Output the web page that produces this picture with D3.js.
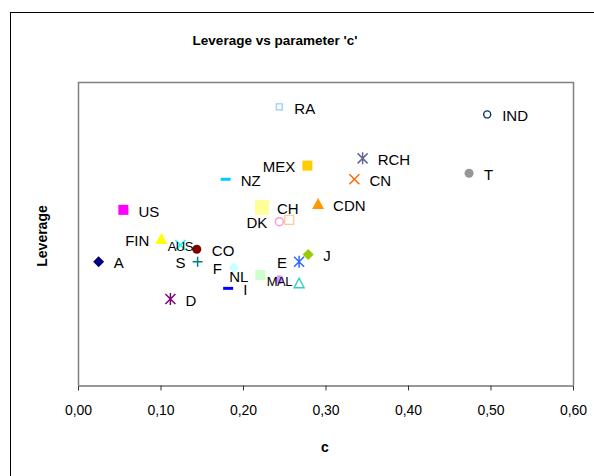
<!DOCTYPE html>
<html><head><meta charset="utf-8">
<script src="https://cdn.jsdelivr.net/npm/d3@7"></script>
<style>body{margin:0;background:#fff;} text{font-family:"Liberation Sans",Arial,sans-serif;}</style>
</head><body>
<svg id="c" width="594" height="476"></svg>
<script>
// ---- data ----
const labels   = ["RA","IND","RCH","MEX","T","CN","NZ","CDN","CH","US","DK","","FIN","AUS","CO","A","S","J","E","F","NL","I","MAL","","D"];
const cValues  = [0.244,0.496,0.345,0.278,0.474,0.335,0.179,0.291,0.223,0.055,0.244,0.256,0.101,0.124,0.144,0.025,0.145,0.279,0.268,0.189,0.221,0.182,0.244,0.268,0.112];
const leverage = [0.918,0.893,0.748,0.724,0.699,0.679,0.679,0.597,0.586,0.578,0.539,0.545,0.482,0.462,0.448,0.407,0.407,0.431,0.407,0.387,0.363,0.319,0.347,0.336,0.284];
const shapes   = ["osquare","ocircle","asterisk","square","circle","x","dash","triangle","bigsquare","square","ocircle","osquare","triangle","x","circle","diamond","plus","diamond","asterisk","diamond","square","dash","circle","otriangle","asterisk"];
const colors   = ["#99ccff","#003366","#666699","#ffcc00","#969696","#ff6600","#00ccff","#ff9900","#ffff99","#ff00ff","#ff99cc","#ffcc99","#ffff00","#00ffff","#800000","#000080","#008080","#99cc00","#3366ff","#ccffff","#ccffcc","#0000ff","#cc99ff","#33cccc","#800080"];
const labelSide= ["r","r","r","l","r","r","r","r","r","r","l","r","l","c","r","r","l","r","l","l","l","r","c","r","r"];
const xTicks   = [0,0.1,0.2,0.3,0.4,0.5,0.6];
const title = "Leverage vs parameter 'c'";
const xTitle = "c", yTitle = "Leverage";

// ---- layout ----
const svg = d3.select("#c");
const L = 78, R = 573, T = 82, B = 385;
const x = d3.scaleLinear().domain([0,0.6]).range([L,R]);
const y = d3.scaleLinear().domain([0,1]).range([B,T]);

// outer chart border
svg.append("rect").attr("x",10.5).attr("y",12.5).attr("width",700).attr("height",600)
  .attr("fill","none").attr("stroke","#000").attr("stroke-width",1);

// plot area border (top/right/left gray)
svg.append("path").attr("d",`M${L+0.5},${B}V${T+0.5}H${R+0.5}V${B}`)
  .attr("fill","none").attr("stroke","#808080").attr("stroke-width",1.5);

// x axis
const xAxis = d3.axisBottom(x).tickValues(xTicks).tickSize(5).tickSizeOuter(0)
  .tickFormat(d => d3.format(".2f")(d).replace(".",","));
const gx = svg.append("g").attr("transform",`translate(0,${B+0.5})`).call(xAxis);
gx.select(".domain").attr("stroke","#333").attr("stroke-width",1.2);
gx.selectAll(".tick line").attr("stroke","#333");
gx.selectAll(".tick text").attr("font-size",14).attr("fill","#000").attr("dy","1.5em")
  .style("font-family","'Liberation Sans',Arial,sans-serif");

// titles
svg.append("text").attr("x",275).attr("y",45).attr("text-anchor","middle")
  .attr("font-size",13.5).attr("font-weight","bold").text(title);
svg.append("text").attr("x",325).attr("y",452).attr("text-anchor","middle")
  .attr("font-size",14).attr("font-weight","bold").text(xTitle);
svg.append("text").attr("transform","translate(47,236) rotate(-90)").attr("text-anchor","middle")
  .attr("font-size",14).attr("font-weight","bold").text(yTitle);

// markers
const pts = labels.map((l,i)=>({l, c:cValues[i], v:leverage[i], s:shapes[i], col:colors[i], side:labelSide[i]}));
const g = svg.append("g");
pts.forEach(p=>{
  const px = x(p.c), py = y(p.v);
  const m = g.append("g").attr("transform",`translate(${px},${py})`);
  switch(p.s){
    case "square": m.append("rect").attr("x",-5).attr("y",-5).attr("width",10).attr("height",10).attr("fill",p.col); break;
    case "bigsquare": m.append("rect").attr("x",-7).attr("y",-7.5).attr("width",14).attr("height",15).attr("fill",p.col); break;
    case "osquare": {
      const h = p.l==="" ? 4.5 : 3;
      m.append("rect").attr("x",-h).attr("y",-h).attr("width",2*h).attr("height",2*h).attr("fill","none").attr("stroke",p.col).attr("stroke-width",1.3); break; }
    case "circle": m.append("circle").attr("r",4.5).attr("fill",p.col); break;
    case "ocircle": m.append("circle").attr("r",p.l==="IND"?3.5:4).attr("fill","none").attr("stroke",p.col).attr("stroke-width",1.4); break;
    case "diamond": m.append("path").attr("d","M0,-5.5L5.5,0L0,5.5L-5.5,0Z").attr("fill",p.col); break;
    case "triangle": m.append("path").attr("d","M0,-6L6,5H-6Z").attr("fill",p.col); break;
    case "otriangle": m.append("path").attr("d","M0,-5L5,4.5H-5Z").attr("fill","none").attr("stroke",p.col).attr("stroke-width",1.4); break;
    case "dash": m.append("rect").attr("x",-5).attr("y",-1.5).attr("width",10).attr("height",3).attr("fill",p.col); break;
    case "plus": m.append("path").attr("d","M-5,0H5M0,-5V5").attr("stroke",p.col).attr("stroke-width",1.5); break;
    case "x": m.append("path").attr("d","M-5,-5L5,5M5,-5L-5,5").attr("stroke",p.col).attr("stroke-width",1.5); break;
    case "asterisk": m.append("path").attr("d","M-5,-5L5,5M5,-5L-5,5M0,-6V6").attr("stroke",p.col).attr("stroke-width",1.5); break;
  }
});
// labels
pts.filter(p=>p.l!=="").forEach(p=>{
  const px = x(p.c), py = y(p.v);
  const t = g.append("text").attr("y",py).attr("dy","0.45em").attr("font-size",15).attr("fill","#000").text(p.l);
  if(p.side==="r") t.attr("x",px+15);
  else if(p.side==="l") t.attr("x",px-12).attr("text-anchor","end");
  else t.attr("x",px).attr("text-anchor","middle").attr("font-size",13).attr("letter-spacing","-0.5");
});
</script>
</body></html>
